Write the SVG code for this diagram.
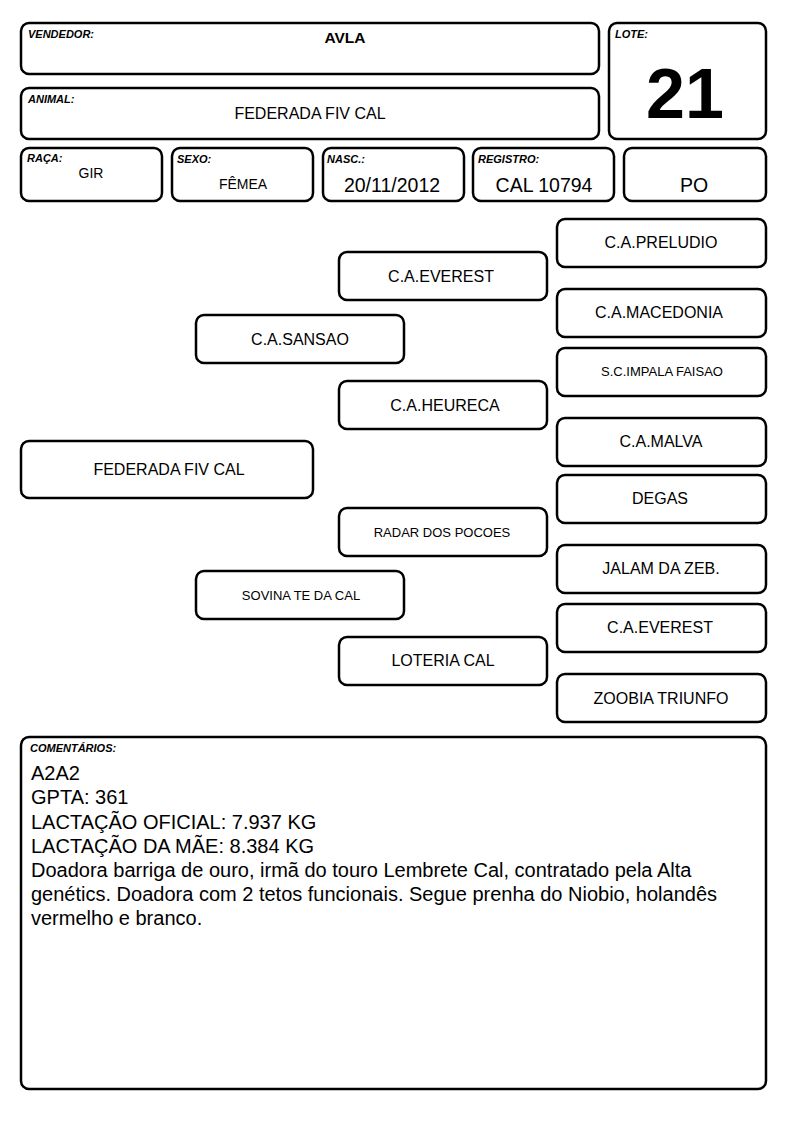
<svg xmlns="http://www.w3.org/2000/svg" width="794" height="1123" viewBox="0 0 794 1123">
<style>
.b{fill:#fff;stroke:#000;stroke-width:2.5}
.l{font-family:"Liberation Sans",Arial,sans-serif;font-weight:bold;font-style:italic;font-size:11px;fill:#000}
.t{font-family:"Liberation Sans",Arial,sans-serif;fill:#000;text-anchor:middle}
.p{font-family:"Liberation Sans",Arial,sans-serif;fill:#000;text-anchor:middle;font-size:16px}
.s{font-size:13px}
.c{font-family:"Liberation Sans",Arial,sans-serif;fill:#000;font-size:20px}
</style>
<rect width="794" height="1123" fill="#fff"/>
<g id="vendedor"><rect class="b" x="21" y="23" width="578" height="51" rx="8"/><text class="l" x="28" y="38" font-size="10.5">VENDEDOR:</text><text class="t" x="345" y="43" font-size="15.5" font-weight="bold">AVLA</text></g>
<g id="animal"><rect class="b" x="21" y="88" width="578" height="51" rx="8"/><text class="l" x="28" y="103" font-size="10.5">ANIMAL:</text><text class="t" x="310" y="119" font-size="16">FEDERADA FIV CAL</text></g>
<g id="lote"><rect class="b" x="609" y="23" width="157" height="116" rx="8"/><text class="l" x="615" y="38">LOTE:</text><text class="t" x="685" y="118" font-size="70" font-weight="bold">21</text></g>
<g id="raca"><rect class="b" x="21" y="148" width="141" height="53" rx="8"/><text class="l" x="27" y="162" font-size="10.5">RAÇA:</text><text class="t" x="91" y="178" font-size="14">GIR</text></g>
<g id="sexo"><rect class="b" x="172" y="148" width="141" height="53" rx="8"/><text class="l" x="177" y="163" font-size="10.5">SEXO:</text><text class="t" x="243" y="189" font-size="14">FÊMEA</text></g>
<g id="nasc"><rect class="b" x="323" y="148" width="141" height="53" rx="8"/><text class="l" x="327" y="163" font-size="10.5">NASC.:</text><text class="t" x="392" y="192" font-size="19.5">20/11/2012</text></g>
<g id="registro"><rect class="b" x="473" y="148" width="141" height="53" rx="8"/><text class="l" x="478" y="163">REGISTRO:</text><text class="t" x="544" y="192" font-size="19.5">CAL 10794</text></g>
<g id="po"><rect class="b" x="624" y="148" width="142" height="53" rx="8"/><text class="t" x="694" y="192" font-size="19.5">PO</text></g>
<g id="connectors"></g>
<g id="n-federada"><rect class="b" x="21" y="441" width="292" height="57" rx="8"/><text class="p" x="169" y="475">FEDERADA FIV CAL</text></g>
<g id="n-sansao"><rect class="b" x="196" y="315" width="208" height="48" rx="8"/><text class="p" x="300" y="345">C.A.SANSAO</text></g>
<g id="n-sovina"><rect class="b" x="196" y="571" width="208" height="48" rx="8"/><text class="p s" x="301" y="600">SOVINA TE DA CAL</text></g>
<g id="n-everest1"><rect class="b" x="339" y="252" width="208" height="48" rx="8"/><text class="p" x="441" y="282">C.A.EVEREST</text></g>
<g id="n-heureca"><rect class="b" x="339" y="381" width="208" height="48" rx="8"/><text class="p" x="445" y="411">C.A.HEURECA</text></g>
<g id="n-radar"><rect class="b" x="339" y="508" width="208" height="48" rx="8"/><text class="p s" x="442" y="537">RADAR DOS POCOES</text></g>
<g id="n-loteria"><rect class="b" x="339" y="637" width="208" height="48" rx="8"/><text class="p" x="443" y="666">LOTERIA CAL</text></g>
<g id="n-preludio"><rect class="b" x="557" y="219" width="209" height="48" rx="8"/><text class="p" x="661" y="248">C.A.PRELUDIO</text></g>
<g id="n-macedonia"><rect class="b" x="557" y="289" width="209" height="48" rx="8"/><text class="p" x="659" y="318">C.A.MACEDONIA</text></g>
<g id="n-impala"><rect class="b" x="557" y="348" width="209" height="48" rx="8"/><text class="p s" x="662" y="376">S.C.IMPALA FAISAO</text></g>
<g id="n-malva"><rect class="b" x="557" y="418" width="209" height="48" rx="8"/><text class="p" x="661" y="447">C.A.MALVA</text></g>
<g id="n-degas"><rect class="b" x="557" y="475" width="209" height="48" rx="8"/><text class="p" x="660" y="504">DEGAS</text></g>
<g id="n-jalam"><rect class="b" x="557" y="545" width="209" height="48" rx="8"/><text class="p" x="661" y="574">JALAM DA ZEB.</text></g>
<g id="n-everest2"><rect class="b" x="557" y="604" width="209" height="48" rx="8"/><text class="p" x="660" y="633">C.A.EVEREST</text></g>
<g id="n-zoobia"><rect class="b" x="557" y="674" width="209" height="48" rx="8"/><text class="p" x="661" y="704">ZOOBIA TRIUNFO</text></g>
<g id="comentarios"><rect class="b" x="21" y="737" width="745" height="352" rx="8"/><text class="l" x="30" y="752">COMENTÁRIOS:</text>
<text class="c" x="31" y="780">A2A2</text>
<text class="c" x="31" y="804">GPTA: 361</text>
<text class="c" x="31" y="829">LACTAÇÃO OFICIAL: 7.937 KG</text>
<text class="c" x="31" y="853">LACTAÇÃO DA MÃE: 8.384 KG</text>
<text class="c" x="31" y="877">Doadora barriga de ouro, irmã do touro Lembrete Cal, contratado pela Alta</text>
<text class="c" x="31" y="901">genétics. Doadora com 2 tetos funcionais. Segue prenha do Niobio, holandês</text>
<text class="c" x="31" y="925">vermelho e branco.</text>
</g>
</svg>
